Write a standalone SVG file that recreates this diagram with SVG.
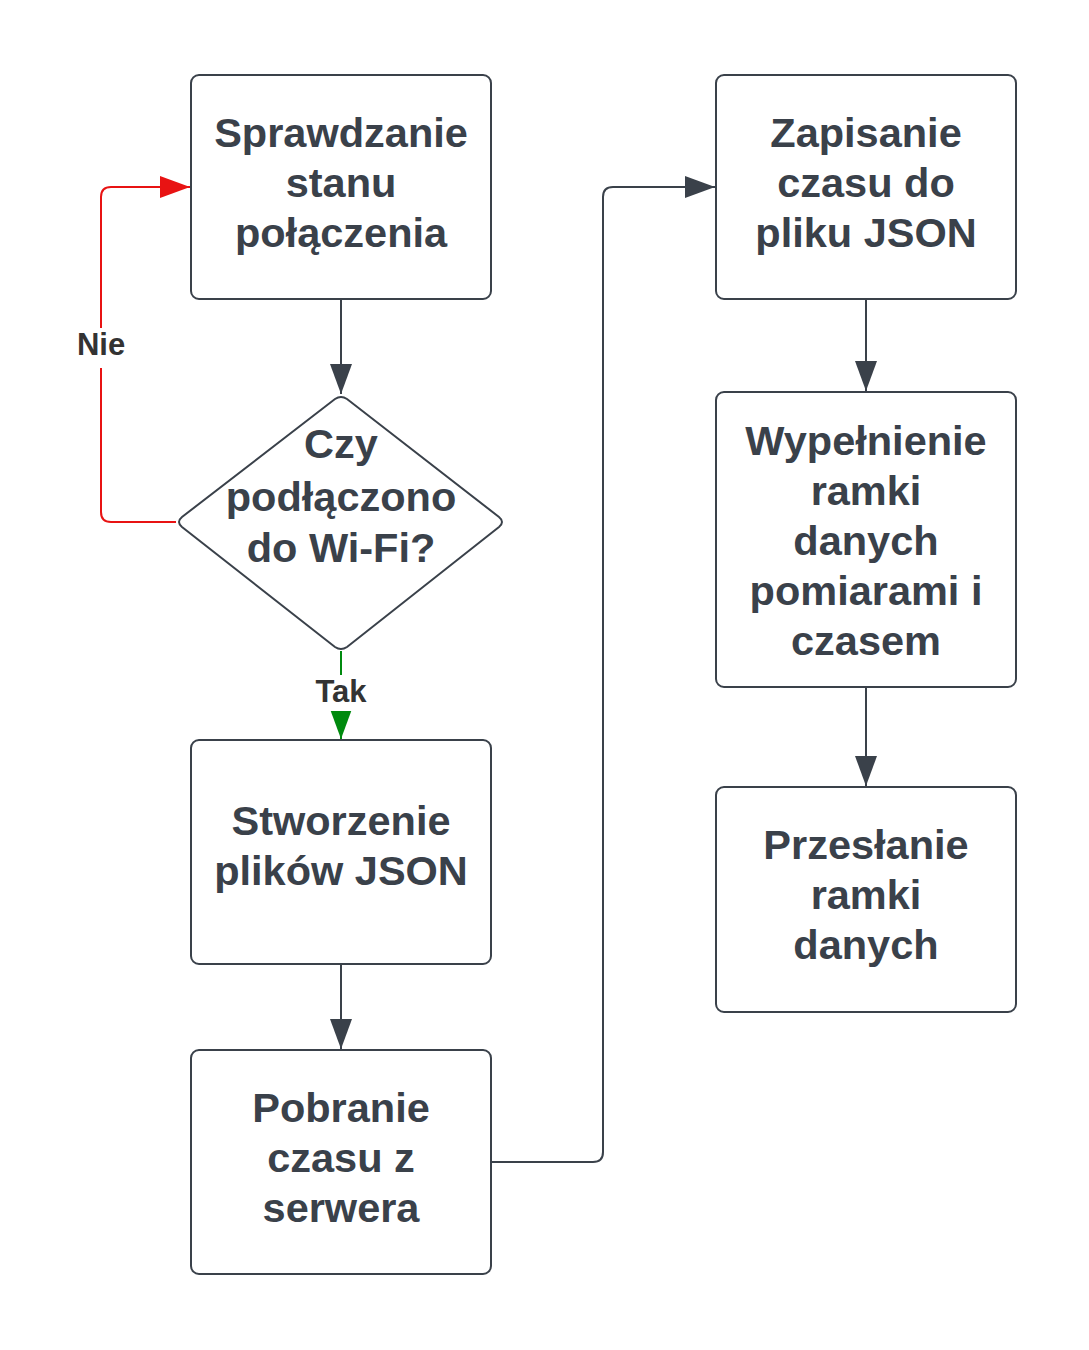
<svg xmlns="http://www.w3.org/2000/svg" width="1089" height="1350" viewBox="0 0 1089 1350">
<style>
.box{fill:#fff;stroke:#3a414a;stroke-width:2}
.t{font-family:"Liberation Sans",Arial,sans-serif;font-weight:bold;font-size:41.5px;fill:#3a414a;text-anchor:middle}
.lbl{font-family:"Liberation Sans",Arial,sans-serif;font-weight:bold;font-size:31px;fill:#333;text-anchor:middle}
.c{fill:none;stroke-width:2}
</style>
<defs>
<marker id="ad" markerUnits="userSpaceOnUse" markerWidth="32" markerHeight="24" refX="30" refY="11" orient="auto"><polygon points="0,0 30,11 0,22" fill="#3a414a"/></marker>
<marker id="ar" markerUnits="userSpaceOnUse" markerWidth="32" markerHeight="24" refX="30" refY="11" orient="auto"><polygon points="0,0 30,11 0,22" fill="#e81313"/></marker>
<marker id="ag" markerUnits="userSpaceOnUse" markerWidth="32" markerHeight="24" refX="30" refY="11" orient="auto"><polygon points="0,0 30,11 0,22" fill="#008a0e"/></marker>
</defs>
<rect width="1089" height="1350" fill="#fff"/>
<g id="connectors">
<path class="c" stroke="#3a414a" d="M341,299 V394" marker-end="url(#ad)"/>
<path class="c" stroke="#e81313" d="M176,522 H111 Q101,522 101,512 V197 Q101,187 111,187 H190" marker-end="url(#ar)"/>
<path class="c" stroke="#008a0e" stroke-width="3" d="M341,651 V739" marker-end="url(#ag)"/>
<path class="c" stroke="#3a414a" d="M341,964 V1049" marker-end="url(#ad)"/>
<path class="c" stroke="#3a414a" d="M491,1162 H593 Q603,1162 603,1152 V197 Q603,187 613,187 H715" marker-end="url(#ad)"/>
<path class="c" stroke="#3a414a" d="M866,299 V391" marker-end="url(#ad)"/>
<path class="c" stroke="#3a414a" d="M866,687 V786" marker-end="url(#ad)"/>
<rect x="70" y="328" width="62" height="40" fill="#fff"/>
<text class="lbl" x="101" y="355">Nie</text>
<rect x="306" y="675" width="70" height="36" fill="#fff"/>
<text class="lbl" x="341" y="702">Tak</text>
</g>
<g id="n1">
<rect class="box" x="191" y="75" width="300" height="224" rx="8"/>
<text class="t" x="341" y="147">Sprawdzanie</text>
<text class="t" x="341" y="197">stanu</text>
<text class="t" x="341" y="247">połączenia</text>
</g>
<g id="n2">
<path class="box" d="M335,399 Q341,395 347,399 L499,517 Q505,522 499,527 L347,647 Q341,651 335,647 L182,527 Q176,522 182,517 Z"/>
<text class="t" x="341" y="458">Czy</text>
<text class="t" x="341" y="511">podłączono</text>
<text class="t" x="341" y="562">do Wi-Fi?</text>
</g>
<g id="n3">
<rect class="box" x="191" y="740" width="300" height="224" rx="8"/>
<text class="t" x="341" y="835">Stworzenie</text>
<text class="t" x="341" y="885">plików JSON</text>
</g>
<g id="n4">
<rect class="box" x="191" y="1050" width="300" height="224" rx="8"/>
<text class="t" x="341" y="1122">Pobranie</text>
<text class="t" x="341" y="1172">czasu z</text>
<text class="t" x="341" y="1222">serwera</text>
</g>
<g id="n5">
<rect class="box" x="716" y="75" width="300" height="224" rx="8"/>
<text class="t" x="866" y="147">Zapisanie</text>
<text class="t" x="866" y="197">czasu do</text>
<text class="t" x="866" y="247">pliku JSON</text>
</g>
<g id="n6">
<rect class="box" x="716" y="392" width="300" height="295" rx="8"/>
<text class="t" x="866" y="455">Wypełnienie</text>
<text class="t" x="866" y="505">ramki</text>
<text class="t" x="866" y="555">danych</text>
<text class="t" x="866" y="605">pomiarami i</text>
<text class="t" x="866" y="655">czasem</text>
</g>
<g id="n7">
<rect class="box" x="716" y="787" width="300" height="225" rx="8"/>
<text class="t" x="866" y="859">Przesłanie</text>
<text class="t" x="866" y="909">ramki</text>
<text class="t" x="866" y="959">danych</text>
</g>
</svg>
